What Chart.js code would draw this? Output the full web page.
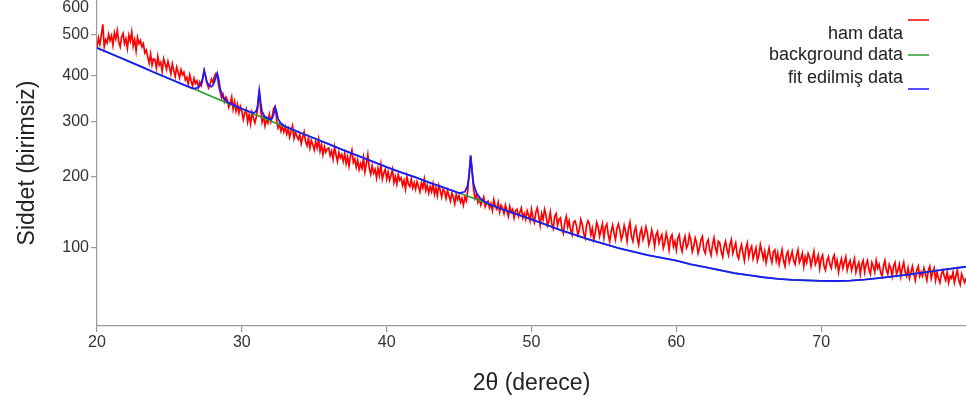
<!DOCTYPE html>
<html>
<head>
<meta charset="utf-8">
<script src="https://cdn.jsdelivr.net/npm/chart.js@4.4.1/dist/chart.umd.min.js"></script>
<style>
  html, body { margin: 0; padding: 0; background: #ffffff; }
  #c { display: block; }
</style>
</head>
<body>
<canvas id="c" width="966" height="406"></canvas>
<script>
// ---------------- DATA ----------------
const seriesLabels = ['ham data', 'background data', 'fit edilmiş data'];
const xTicks = [20, 30, 40, 50, 60, 70];
const yTicks = [100, 200, 300, 400, 500, 600];

// raw measurement (ham data): start 20°, step 0.1°
const hamStart = 20;
const hamStep = 0.1;
const hamValues = [
  468,492,476,500,528,470,488,480,502,486,
  498,474,506,490,512,483,470,495,504,478,
  490,466,499,484,508,472,488,460,494,478,
  486,470,478,455,462,445,430,452,425,440,
  438,418,446,425,432,410,440,428,415,434,
  420,404,428,412,398,420,408,395,414,402,
  408,390,396,380,402,388,376,394,382,388,
  374,386,378,395,412,398,382,372,380,392,
  385,398,405,402,376,364,350,358,342,352,
  346,330,338,352,326,342,322,336,318,332,
  322,305,318,326,300,314,296,320,308,298,
  310,330,368,325,300,312,292,306,298,315,
  300,312,328,332,305,288,296,282,292,280,
  290,276,286,270,282,292,268,280,272,266,
  275,258,270,280,262,254,268,250,264,256,
  246,262,250,266,244,256,238,252,242,248,
  250,236,244,230,252,238,226,242,232,238,
  226,240,222,234,218,236,246,224,230,216,
  228,212,222,214,232,208,222,238,214,204,
  218,206,212,198,214,202,220,196,206,212,
  196,208,194,202,212,190,200,188,204,194,
  198,186,194,180,200,188,184,196,182,190,
  180,192,184,176,190,182,196,178,186,174,
  184,176,188,172,182,170,186,178,168,180,
  176,166,178,170,162,174,168,158,172,164,
  170,160,166,156,168,162,178,205,236,210,
  180,166,172,160,166,156,162,168,154,160,
  162,152,158,148,164,154,150,160,146,156,
  152,144,156,148,140,154,146,150,138,148,
  150,140,146,152,138,144,136,148,142,134,
  150,138,132,146,152,140,128,144,136,150,
  142,128,134,146,130,124,140,144,128,136,
  138,124,118,132,140,126,134,122,116,132,
  134,128,116,122,136,130,118,112,128,134,
  130,116,124,110,118,132,126,114,122,130,
  112,126,130,116,108,120,128,118,110,124,
  130,122,110,116,128,120,108,124,132,114,
  108,120,126,112,104,118,124,110,116,126,
  118,104,110,122,114,102,116,120,106,112,
  116,100,106,118,110,98,112,116,102,108,
  98,112,116,102,96,108,114,100,104,116,
  110,96,102,112,106,94,100,110,114,98,
  94,106,110,98,92,104,112,100,94,108,
  106,96,90,102,108,98,92,104,110,94,
  100,106,92,88,98,104,94,86,100,106,
  90,98,102,88,94,100,86,92,104,96,
  88,96,84,92,100,90,84,96,98,86,
  94,82,90,98,86,80,92,96,84,90,
  96,86,82,92,98,84,88,94,80,90,
  84,94,90,80,88,96,82,86,92,78,
  88,92,80,76,86,90,82,78,88,92,
  80,86,74,82,88,78,84,90,76,82,
  86,76,82,88,74,80,84,72,82,86,
  74,82,86,76,72,84,80,74,86,78,
  82,74,70,80,86,76,72,82,78,70,
  80,84,72,76,82,70,78,84,74,70,
  78,68,74,80,72,66,76,80,70,74,
  70,78,72,66,76,80,68,74,78,66,
  74,68,64,72,76,70,66,74,64,70,
  68,74,64,70,76,66,62,72,68,64,
  68
];

// background (green)
const bgX = [20,21,22,23,24,25,26,27,28,29,30,31,32,33,34,35,36,37,38,39,40,
             41,42,43,44,45,46,47,48,49,50,51,52,53,54,55,56,57,58,59,60,
             61,62,63,64,65,66,67,68,69,70,71,72,73,74,75,76,77,78,79,80];
const bgY = [467,452,437,422,407,393,379,366,352,339,327,314,302,290,279,268,257,246,236,226,216,
             207,199,190,182,174,166,158,150,143,136,129,122,116,110,105,100,96,92,89,86,
             82,79,76,73,71,69,67.5,66.5,66,65.5,65.4,65.8,66.8,68.2,69.8,71.6,73.6,75.6,77.6,79.5];

// fit (blue) = background + peaks
const fitX = [20,21,22,23,24,25,26,26.6,26.8,27.0,27.2,27.3,27.4,27.5,27.6,27.8,27.9,28.0,28.1,28.2,28.3,28.4,28.5,28.7,
              29,30,30.8,31.0,31.1,31.2,31.3,31.4,31.6,32.0,32.1,32.2,32.3,32.4,32.5,32.7,
              33,34,35,36,37,38,39,40,41,42,43,44,45,45.4,45.6,45.7,45.8,45.9,46.0,46.2,46.5,
              47,48,49,50,51,52,53,54,55,56,57,58,59,60,
              61,62,63,64,65,66,67,68,69,70,71,72,73,74,75,76,77,78,79,80];
const fitY = [467,452,437,422,407,393,379,371,371,373,381,393,412,399,384,376,375,378,385,396,406,392,370,352,
              341,327,318,322,335,366,340,320,310,305,308,316,330,321,306,297,
              291,279,268,257,246,236,226,216,207,199,190,182,174,176,186,205,236,208,188,174,165,
              158,150,143,136,129,122,116,110,105,100,96,92,89,86,
              82,79,76,73,71,69,67.5,66.5,66,65.5,65.4,65.8,66.8,68.2,69.8,71.6,73.6,75.6,77.6,79.5];

// ---------------- SCALE ----------------
class SqrtScale extends Chart.LinearScale {
  getPixelForValue(value) {
    const a = Math.sqrt(this.min), b = Math.sqrt(this.max);
    return this.getPixelForDecimal((Math.sqrt(Math.max(value, 0)) - a) / (b - a));
  }
  getValueForPixel(pixel) {
    const a = Math.sqrt(this.min), b = Math.sqrt(this.max);
    const s = a + this.getDecimalForPixel(pixel) * (b - a);
    return s * s;
  }
}
SqrtScale.id = 'sqrt';
SqrtScale.defaults = Chart.LinearScale.defaults;
Chart.register(SqrtScale);

const hamData = hamValues.map((v, i) => ({ x: +(hamStart + i * hamStep).toFixed(2), y: v }));
const bgData = bgX.map((x, i) => ({ x: x, y: bgY[i] }));
const fitData = fitX.map((x, i) => ({ x: x, y: fitY[i] }));

const FONT = '"Liberation Sans", Arial, sans-serif';
const axisGray = '#9a9a9a';

const legendPlugin = {
  id: 'sideLegend',
  afterDraw(chart) {
    const ctx = chart.ctx;
    const textY = [34, 55, 78];
    const lineY = [20, 55, 89];
    ctx.save();
    ctx.font = '18px ' + FONT;
    ctx.textAlign = 'right';
    ctx.textBaseline = 'middle';
    chart.data.datasets.forEach((ds, i) => {
      ctx.fillStyle = '#222222';
      ctx.fillText(ds.label, 903, textY[i]);
      ctx.strokeStyle = ds.borderColor;
      ctx.lineWidth = 1.5;
      ctx.beginPath();
      ctx.moveTo(908, lineY[i]);
      ctx.lineTo(929, lineY[i]);
      ctx.stroke();
    });
    ctx.restore();
  }
};

new Chart(document.getElementById('c'), {
  type: 'line',
  data: {
    datasets: [
      { label: seriesLabels[0], data: hamData, borderColor: '#ff0000', borderWidth: 1.7, pointRadius: 0, tension: 0, order: 3 },
      { label: seriesLabels[1], data: bgData, borderColor: '#2e9a2e', borderWidth: 1.6, pointRadius: 0, tension: 0, order: 2 },
      { label: seriesLabels[2], data: fitData, borderColor: '#1a1aff', borderWidth: 1.8, pointRadius: 0, tension: 0, order: 1 }
    ]
  },
  options: {
    responsive: false,
    animation: false,
    layout: { padding: { top: 0, right: 0, bottom: 0, left: 0 } },
    plugins: { legend: { display: false }, tooltip: { enabled: false } },
    scales: {
      x: {
        type: 'linear',
        min: 20, max: 80,
        afterBuildTicks(scale) { scale.ticks = xTicks.map(v => ({ value: v })); },
        afterFit(scale) { scale.height = 80; scale.paddingLeft = 0; scale.paddingRight = 0; },
        border: { display: true, color: axisGray, width: 1.2 },
        grid: { display: true, drawOnChartArea: false, drawTicks: true, tickLength: 6, color: axisGray, lineWidth: 1.2 },
        ticks: { autoSkip: false, maxRotation: 0, padding: 1, color: '#333333', font: { family: FONT, size: 16 },
                 callback: (v) => String(v) },
        title: { display: true, text: '2θ (derece)', color: '#222222', font: { family: FONT, size: 23 },
                 padding: { top: 0, bottom: 9 } }
      },
      y: {
        type: 'sqrt',
        min: 30, max: 595,
        afterBuildTicks(scale) { scale.ticks = yTicks.map(v => ({ value: v })); },
        afterFit(scale) { scale.width = 97; scale.paddingTop = 0; scale.paddingBottom = 0; },
        border: { display: true, color: axisGray, width: 1.2 },
        grid: { display: true, drawOnChartArea: false, drawTicks: true, tickLength: 6, color: axisGray, lineWidth: 1.2 },
        ticks: { autoSkip: false, padding: 2, color: '#333333', font: { family: FONT, size: 16 },
                 callback: (v) => (v === 600 ? ['', '600'] : String(v)) },
        title: { display: true, text: 'Siddet (birimsiz)', color: '#222222', font: { family: FONT, size: 23 },
                 padding: { top: 14, bottom: 0 } }
      }
    }
  },
  plugins: [legendPlugin]
});
</script>
</body>
</html>
